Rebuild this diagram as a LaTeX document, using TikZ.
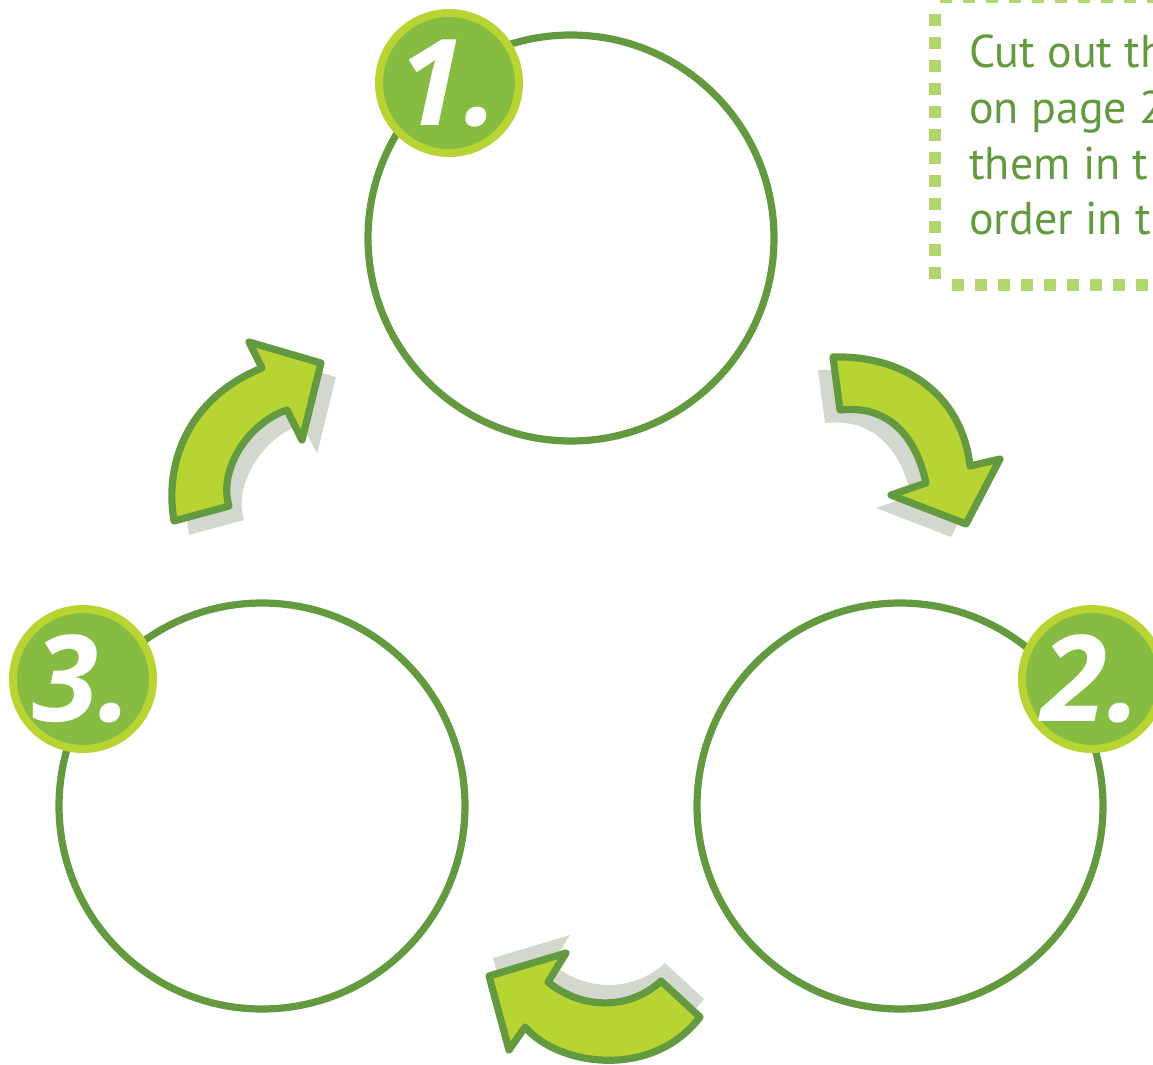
\documentclass[tikz,border=0pt]{standalone}
\usepackage{fontspec}
\setmainfont{Open Sans}
\newfontfamily\boxfont{PT Sans}
\definecolor{dkgreen}{HTML}{639A3F}
\definecolor{lime}{HTML}{B8D432}
\definecolor{badgefill}{HTML}{85BC41}
\definecolor{shadowgray}{HTML}{D3D8CF}
\definecolor{dashgreen}{HTML}{B2D56E}
\tikzset{
  ring/.style={circle, draw=dkgreen, line width=5.4pt, fill=white, inner sep=0pt, minimum size=304.5pt},
  badge/.style={circle, draw=lime, fill=badgefill, line width=6pt, inner sep=0pt, minimum size=105pt},
  num/.style={text=white, inner sep=0pt, font=\fontsize{90}{90}\selectfont\bfseries\itshape},
  arrowbody/.style={fill=lime, draw=dkgreen, line width=5.4pt, line join=round},
  arrowshadow/.style={fill=shadowgray},
  dashbox/.style={draw=dashgreen, line width=9pt, dash pattern=on 9pt off 8.25pt},
  boxtext/.style={text=dkgreen, inner sep=0pt, anchor=base west, font=\boxfont\fontsize{34.5}{40}\selectfont}
}
\def\arrowA{(174,521) .. controls (163,455) and (195,395) .. (262,368) -- (249,342) -- (321,363) -- (302,440) -- (287,410) .. controls (248,423) and (218,470) .. (229,506) -- cycle}
\def\arrowB{(833,357) .. controls (905,355) and (962,395) .. (970,466) -- (1000,459) -- (966,524) -- (891,495) -- (926,483) .. controls (915,432) and (885,405) .. (840,410) -- cycle}
\def\arrowC{(566,953) -- (489,976) -- (509,1050) -- (525,1027) .. controls (558,1066) and (652,1080) .. (700,1017) -- (661,981) .. controls (632,1008) and (585,1012) .. (548,982) -- cycle}
\begin{document}
\begin{tikzpicture}[x=0.75pt,y=-0.75pt]
\useasboundingbox (0,0) rectangle (1153,1064);
\begin{scope}
\clip (0,0) rectangle (1153,1064);
% big circles
\node[ring] (c1) at (571,238) {};
\node[ring] (c2) at (900,806) {};
\node[ring] (c3) at (262,806) {};
% badges
\node[badge] (b1) at (449,83) {};
\node[num] (n1) at (b1) {1.};
\node[badge] (b2) at (1092,679) {};
\node[num] (n2) at (b2) {2.};
\node[badge] (b3) at (83,679) {};
\node[num] (n3) at (b3) {3.};
% arrows with shadows
\fill[arrowshadow, shift={(15,14)}] \arrowA;
\path[arrowbody] \arrowA;
\fill[arrowshadow, shift={(-15,13)}] \arrowB;
\path[arrowbody] \arrowB;
\fill[arrowshadow, shift={(4,-18)}] \arrowC;
\path[arrowbody] \arrowC;
% dotted text box
\coordinate (bxTL) at (940,-3);
\coordinate (bxTR) at (1165,-3);
\coordinate (bxL1) at (935,14);
\coordinate (bxBL) at (935,285);
\coordinate (bxB1) at (952,285);
\coordinate (bxBR) at (1165,285);
\path[dashbox] (bxTL) -- (bxTR);
\path[dashbox] (bxL1) -- (bxBL);
\path[dashbox] (bxB1) -- (bxBR);
\node[boxtext] (t1) at (969,67) {Cut out th};
\node[boxtext] (t2) at (969,123) {on page 2};
\node[boxtext] (t3) at (969,179) {them in t};
\node[boxtext] (t4) at (969,234) {order in t};
\end{scope}
\end{tikzpicture}
\end{document}
